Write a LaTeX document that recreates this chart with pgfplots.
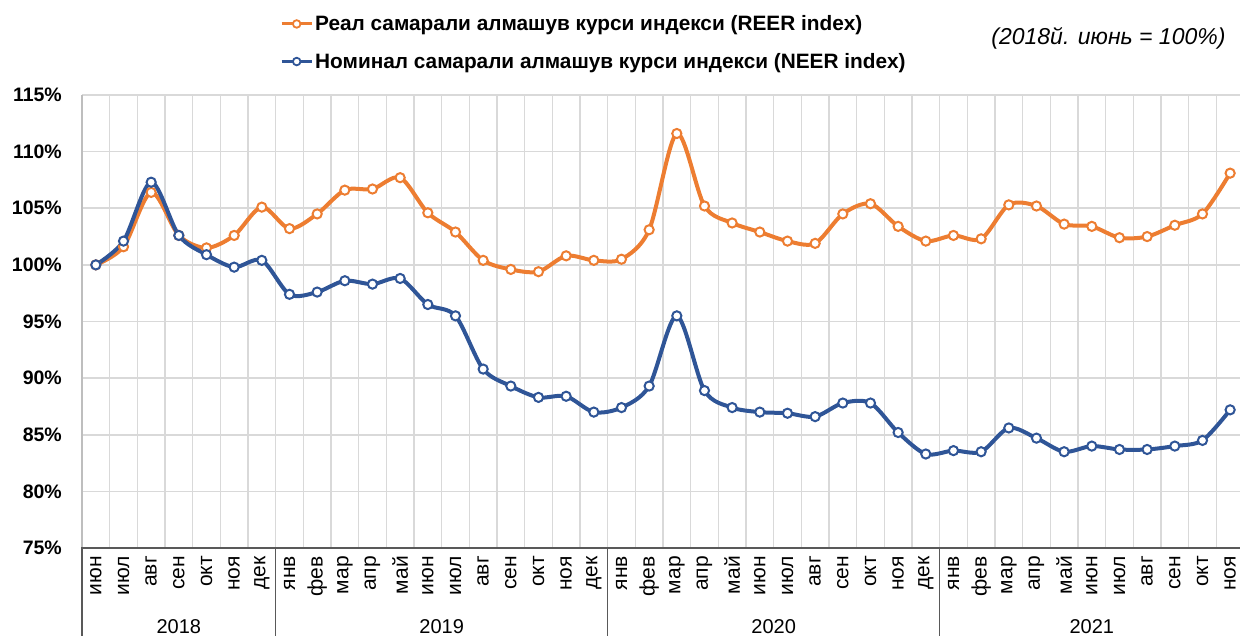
\documentclass[border=0pt]{standalone}
\usepackage{fontspec}
\setmainfont{Liberation Sans}
\usepackage{pgfplots}
\pgfplotsset{compat=1.18}
\definecolor{reer}{HTML}{ED7D31}
\definecolor{neer}{HTML}{2F5597}
\definecolor{gridc}{HTML}{D9D9D9}
\definecolor{axc}{HTML}{595959}

\begin{document}
\begin{tikzpicture}[x=1pt,y=1pt]
\path[use as bounding box] (0,0) rectangle (1240,-635);
\begin{axis}[
  at={(82pt,-548pt)}, anchor=south west,
  scale only axis, width=1162pt, height=453pt,
  xmin=-0.5, xmax=41.5, ymin=75, ymax=115,
  clip=false,
  axis line style={draw=none},
  xtick={0,...,41},
  xticklabels={июн,июл,авг,сен,окт,ноя,дек,янв,фев,мар,апр,май,июн,июл,авг,сен,окт,ноя,дек,янв,фев,мар,апр,май,июн,июл,авг,сен,окт,ноя,дек,янв,фев,мар,апр,май,июн,июл,авг,сен,окт,ноя},
  xticklabel style={font=\fontsize{21}{21}\selectfont, inner sep=0pt, rotate=90, anchor=east, execute at end node={\kern8pt}},
  minor xtick={-0.5,0.5,...,41.5},
  xminorgrids, ymajorgrids,
  grid style={gridc, line width=1.6pt},
  minor grid style={gridc, line width=1.6pt},
  major tick length=0pt, minor tick length=0pt,
  ytick={75,80,85,90,95,100,105,110,115},
  yticklabels={75\%,80\%,85\%,90\%,95\%,100\%,105\%,110\%,115\%},
  yticklabel style={font=\bfseries\fontsize{19.5}{19.5}\selectfont, inner sep=0pt},
  yticklabel shift=20pt,
  legend style={at={(0.1704,1.18)}, anchor=north west, draw=none, fill=none,
    font=\bfseries\fontsize{20.8}{20.8}\selectfont, row sep=17pt, inner sep=0pt},
  legend cell align=left,
  legend image code/.code={\draw[line width=3pt] (0pt,0pt) -- (30pt,0pt);
     \draw[line width=1.8pt, fill=white] (15pt,0pt) circle (3.8pt);},
]
\addplot[reer, line width=4pt, smooth, tension=0.5, mark=*, mark size=4.6pt,
  mark options={fill=white, draw=reer, line width=2pt}] coordinates {
(0,100.0)(1,101.6)(2,106.4)(3,102.6)(4,101.5)(5,102.6)(6,105.1)
(7,103.2)(8,104.5)(9,106.6)(10,106.7)(11,107.7)(12,104.6)(13,102.9)(14,100.4)(15,99.6)(16,99.4)(17,100.8)(18,100.4)
(19,100.5)(20,103.1)(21,111.6)(22,105.2)(23,103.7)(24,102.9)(25,102.1)(26,101.9)(27,104.5)(28,105.4)(29,103.4)(30,102.1)
(31,102.6)(32,102.3)(33,105.3)(34,105.2)(35,103.6)(36,103.4)(37,102.4)(38,102.5)(39,103.5)(40,104.5)(41,108.1)};
\addlegendentry{Реал самарали алмашув курси индекси (REER index)}
\addplot[neer, line width=4pt, smooth, tension=0.5, mark=*, mark size=4.6pt,
  mark options={fill=white, draw=neer, line width=2pt}] coordinates {
(0,100.0)(1,102.1)(2,107.3)(3,102.6)(4,100.9)(5,99.8)(6,100.4)
(7,97.4)(8,97.6)(9,98.6)(10,98.3)(11,98.8)(12,96.5)(13,95.5)(14,90.8)(15,89.3)(16,88.3)(17,88.4)(18,87.0)
(19,87.4)(20,89.3)(21,95.5)(22,88.9)(23,87.4)(24,87.0)(25,86.9)(26,86.6)(27,87.8)(28,87.8)(29,85.2)(30,83.3)
(31,83.6)(32,83.5)(33,85.6)(34,84.7)(35,83.5)(36,84.0)(37,83.7)(38,83.7)(39,84.0)(40,84.5)(41,87.2)};
\addlegendentry{Номинал самарали алмашув курси индекси (NEER index)}
\end{axis}
\draw[gridc!70!gray, line width=2pt] (82,-95) -- (82,-548);
\draw[axc, line width=2pt] (81,-548) -- (1244,-548);
\foreach \xx in {82,275.67,607.67,939.67} {
  \draw[axc, line width=1.5pt] (\xx,-548) -- (\xx,-640);
}
\begin{scope}[every node/.style={font=\fontsize{20}{20}\selectfont, anchor=base}]
\node at (178.8,-633) {2018};
\node at (441.7,-633) {2019};
\node at (773.7,-633) {2020};
\node at (1091.8,-633) {2021};
\end{scope}
\node[font=\itshape\fontsize{23}{23}\selectfont, anchor=east] at (1229,-38) {(2018й. июнь = 100\%)};
\end{tikzpicture}
\end{document}
